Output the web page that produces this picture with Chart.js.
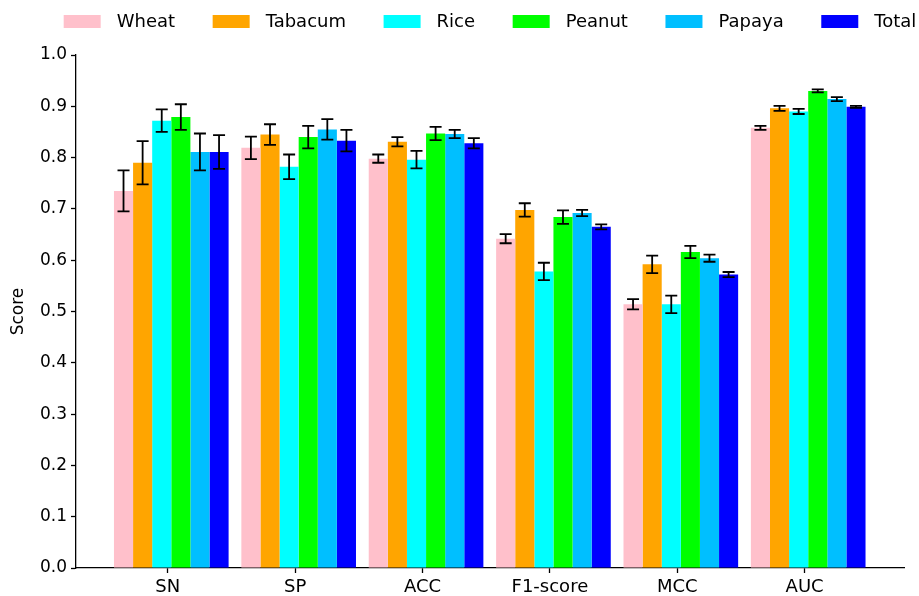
<!DOCTYPE html>
<html>
<head>
<meta charset="utf-8">
<script src="https://cdn.jsdelivr.net/npm/chart.js@4.4.1/dist/chart.umd.min.js"></script>
<style>
  html, body { margin: 0; padding: 0; background: #ffffff; }
  #wrap { width: 919px; height: 596px; }
</style>
</head>
<body>
<div id="wrap"><canvas id="chart" width="919" height="596"></canvas></div>
<script>
// Evaluation metrics on the x axis
const metrics = ['SN', 'SP', 'ACC', 'F1-score', 'MCC', 'AUC'];

// Mean scores per species (one value per metric)
const wheat   = [0.735, 0.819, 0.798, 0.642, 0.514, 0.858];
const tabacum = [0.790, 0.845, 0.831, 0.698, 0.592, 0.896];
const rice    = [0.872, 0.782, 0.796, 0.578, 0.514, 0.890];
const peanut  = [0.879, 0.840, 0.847, 0.684, 0.616, 0.930];
const papaya  = [0.811, 0.855, 0.846, 0.692, 0.604, 0.914];
const total   = [0.811, 0.833, 0.828, 0.665, 0.572, 0.899];

// Standard deviations (half-length of each error bar)
const wheatErr   = [0.040, 0.022, 0.008, 0.009, 0.010, 0.004];
const tabacumErr = [0.042, 0.020, 0.009, 0.013, 0.017, 0.005];
const riceErr    = [0.022, 0.024, 0.017, 0.017, 0.017, 0.005];
const peanutErr  = [0.025, 0.022, 0.013, 0.013, 0.012, 0.003];
const papayaErr  = [0.036, 0.020, 0.008, 0.006, 0.007, 0.004];
const totalErr   = [0.033, 0.021, 0.010, 0.005, 0.005, 0.002];

// Y axis tick values
const yTicks = [0.0, 0.1, 0.2, 0.3, 0.4, 0.5, 0.6, 0.7, 0.8, 0.9, 1.0];

const FONT = "'DejaVu Sans', 'Liberation Sans', sans-serif";
const GROUP_SHIFT = 0.028;   // bar groups sit slightly right of their tick

const series = [
  { label: 'Wheat',   values: wheat,   err: wheatErr,   color: '#FFC0CB' },
  { label: 'Tabacum', values: tabacum, err: tabacumErr, color: '#FFA500' },
  { label: 'Rice',    values: rice,    err: riceErr,    color: '#00FFFF' },
  { label: 'Peanut',  values: peanut,  err: peanutErr,  color: '#00FF00' },
  { label: 'Papaya',  values: papaya,  err: papayaErr,  color: '#00BFFF' },
  { label: 'Total',   values: total,   err: totalErr,   color: '#0000FF' }
];

const datasets = series.map(s => ({
  label: s.label,
  data: s.values.map((v, i) => ({ x: i + GROUP_SHIFT, y: v })),
  errors: s.err,
  backgroundColor: s.color,
  borderColor: s.color,
  borderWidth: 0,
  categoryPercentage: 0.9,
  barPercentage: 1.0
}));

// Draws black error bars with caps on top of every bar
const errorBars = {
  id: 'errorBars',
  afterDatasetsDraw(chart) {
    const ctx = chart.ctx;
    const yScale = chart.scales.y;
    ctx.save();
    ctx.strokeStyle = '#000000';
    ctx.lineWidth = 1.8;
    chart.data.datasets.forEach((ds, di) => {
      const meta = chart.getDatasetMeta(di);
      if (meta.hidden) return;
      meta.data.forEach((bar, i) => {
        const v = ds.data[i].y;
        const e = ds.errors[i];
        const yTop = yScale.getPixelForValue(v + e);
        const yBot = yScale.getPixelForValue(v - e);
        const x = bar.x;
        const cap = 6;
        ctx.beginPath();
        ctx.moveTo(x, yTop); ctx.lineTo(x, yBot);
        ctx.moveTo(x - cap, yTop); ctx.lineTo(x + cap, yTop);
        ctx.moveTo(x - cap, yBot); ctx.lineTo(x + cap, yBot);
        ctx.stroke();
      });
    });
    ctx.restore();
  }
};

// One-row legend centred over the plot area, swatch then label
const rowLegend = {
  id: 'rowLegend',
  afterDraw(chart) {
    const ctx = chart.ctx;
    const area = chart.chartArea;
    const boxW = 37, boxH = 13, textGap = 16, itemGap = 37.6, rowY = 21.5;
    ctx.save();
    ctx.font = '18px ' + FONT;
    const items = chart.data.datasets.map(ds => ({
      label: ds.label,
      color: ds.backgroundColor,
      w: ctx.measureText(ds.label).width
    }));
    const totalW = items.reduce((s, it) => s + boxW + textGap + it.w, 0) + itemGap * (items.length - 1);
    let x = (area.left + area.right) / 2 - totalW / 2;
    ctx.textBaseline = 'middle';
    ctx.textAlign = 'left';
    items.forEach(it => {
      ctx.fillStyle = it.color;
      ctx.fillRect(x, rowY - boxH / 2, boxW, boxH);
      ctx.fillStyle = '#000000';
      ctx.fillText(it.label, x + boxW + textGap, rowY + 1);
      x += boxW + textGap + it.w + itemGap;
    });
    ctx.restore();
  }
};

new Chart(document.getElementById('chart'), {
  type: 'bar',
  data: { datasets },
  plugins: [errorBars, rowLegend],
  options: {
    responsive: false,
    animation: false,
    devicePixelRatio: 1,
    layout: { padding: { top: 55, right: 15, bottom: 0, left: 0 } },
    plugins: {
      tooltip: { enabled: false },
      legend: { display: false }
    },
    scales: {
      x: {
        type: 'linear',
        min: -0.72,
        max: 5.78,
        offset: false,
        afterBuildTicks(scale) {
          scale.ticks = metrics.map((_, i) => ({ value: i }));
        },
        afterFit(scale) { scale.height = 28; },
        ticks: {
          autoSkip: false,
          maxRotation: 0,
          color: '#000000',
          padding: 4,
          font: { family: FONT, size: 18 },
          callback: (v) => metrics[Math.round(v)]
        },
        grid: {
          display: true,
          offset: false,
          drawOnChartArea: false,
          drawTicks: true,
          tickLength: 5,
          tickWidth: 1.3,
          tickColor: '#000000'
        },
        border: { display: true, color: '#000000', width: 1.3 }
      },
      y: {
        type: 'linear',
        min: 0,
        max: 1,
        afterBuildTicks(scale) {
          scale.ticks = yTicks.map(v => ({ value: v }));
        },
        afterFit(scale) { scale.width = 76; },
        title: {
          display: true,
          text: 'Score',
          color: '#000000',
          padding: { top: 8, bottom: 0 },
          font: { family: FONT, size: 17 }
        },
        ticks: {
          color: '#000000',
          padding: 4,
          font: { family: FONT, size: 17 },
          callback: (v) => Number(v).toFixed(1)
        },
        grid: {
          display: true,
          offset: false,
          drawOnChartArea: false,
          drawTicks: true,
          tickLength: 5,
          tickWidth: 1.3,
          tickColor: '#000000'
        },
        border: { display: true, color: '#000000', width: 1.3 }
      }
    }
  }
});
</script>
</body>
</html>
